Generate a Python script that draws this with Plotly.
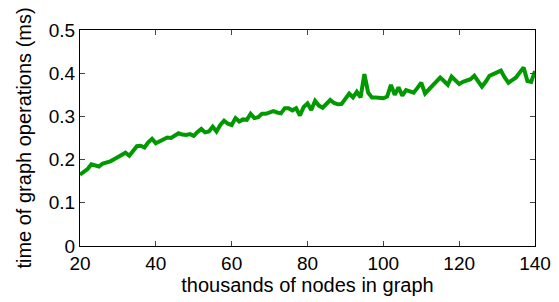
import plotly.graph_objects as go

nodes_k = list(range(20, 141))
time_ms = [
    0.165, 0.172, 0.178, 0.189, 0.186, 0.184, 0.191, 0.193, 0.196, 0.201,
    0.206, 0.211, 0.216, 0.209, 0.220, 0.231, 0.232, 0.228, 0.240, 0.248,
    0.238, 0.242, 0.246, 0.251, 0.250, 0.255, 0.261, 0.258, 0.257, 0.259,
    0.255, 0.264, 0.271, 0.263, 0.265, 0.276, 0.265, 0.280, 0.290, 0.283,
    0.280, 0.296, 0.288, 0.293, 0.292, 0.306, 0.296, 0.298, 0.306, 0.306,
    0.308, 0.312, 0.309, 0.307, 0.319, 0.319, 0.314, 0.319, 0.302, 0.322,
    0.330, 0.315, 0.336, 0.325, 0.320, 0.330, 0.338, 0.331, 0.328, 0.329,
    0.340, 0.353, 0.344, 0.357, 0.344, 0.398, 0.355, 0.344, 0.344, 0.342,
    0.342, 0.346, 0.373, 0.350, 0.367, 0.348, 0.361, 0.358, 0.355, 0.366,
    0.378, 0.353, 0.362, 0.373, 0.382, 0.390, 0.382, 0.373, 0.392, 0.384,
    0.375, 0.380, 0.384, 0.386, 0.394, 0.382, 0.369, 0.380, 0.394, 0.398,
    0.402, 0.406, 0.390, 0.378, 0.384, 0.390, 0.402, 0.413, 0.382, 0.380,
    0.405,
]
x_ticks = [20, 40, 60, 80, 100, 120, 140]
y_ticks = [0, 0.1, 0.2, 0.3, 0.4, 0.5]
y_tick_labels = ["0", "0.1", "0.2", "0.3", "0.4", "0.5"]

fig = go.Figure(go.Scatter(
    x=nodes_k, y=time_ms, mode="lines",
    line=dict(color="rgb(0,153,0)", width=4),
))

font = dict(family="Liberation Sans, Arial, sans-serif", size=19, color="black")
title_font = dict(family="Liberation Sans, Arial, sans-serif", size=20, color="black")
fig.update_layout(
    width=551, height=294,
    margin=dict(l=72, r=24, t=22, b=56),
    paper_bgcolor="white", plot_bgcolor="white",
    showlegend=False, font=font,
)
fig.update_xaxes(
    range=[20, 140], tickvals=x_ticks, ticks="inside", ticklen=5,
    showline=True, linecolor="black", linewidth=1, mirror="ticks",
    showgrid=False, zeroline=False, automargin=False, tickfont=font,
    title=dict(text="thousands of nodes in graph", standoff=0, font=title_font),
)
fig.update_yaxes(
    range=[0, 0.5], tickvals=y_ticks, ticktext=y_tick_labels,
    ticks="inside", ticklen=5,
    showline=True, linecolor="black", linewidth=1, mirror="ticks",
    showgrid=False, zeroline=False, automargin=False, tickfont=font,
    title=dict(text="time of graph operations (ms)", standoff=11, font=title_font),
)
fig.write_html("out.html")
